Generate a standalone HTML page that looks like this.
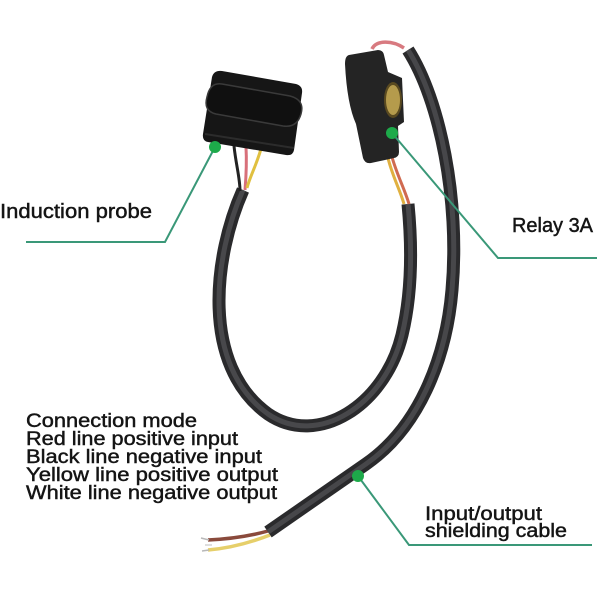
<!DOCTYPE html>
<html><head><meta charset="utf-8"><style>
html,body{margin:0;padding:0;background:#fff;}
svg{display:block;}
text{font-family:"Liberation Sans",Arial,sans-serif;fill:#141414;stroke:#141414;stroke-width:0.45;}
</style></head><body>
<svg width="600" height="600" viewBox="0 0 600 600" xmlns="http://www.w3.org/2000/svg">
<rect width="600" height="600" fill="#fff"/>

<!-- wires at end of cable 2 -->
<path d="M268,531 C250,536 230,539 208,540" stroke="#8a4a3c" stroke-width="3.5" fill="none"/>
<path d="M270,535 C252,542 232,548 208,550" stroke="#e6cf6a" stroke-width="3.5" fill="none"/>
<path d="M209,540 L201,538" stroke="#b8b8b8" stroke-width="1.5"/>
<path d="M209,550 L202,551" stroke="#b8b8b8" stroke-width="1.5"/>
<path d="M212,545 L205,545" stroke="#c8c8c8" stroke-width="1.2"/>

<!-- cable 2 (input/output) -->
<path d="M408,50 C440,100 460,200 452,290 C446,360 418,428 366,464 L268,532" stroke="#2a2a2c" stroke-width="13" fill="none"/>
<path d="M408,50 C440,100 460,200 452,290 C446,360 418,428 366,464 L268,532" stroke="#47474a" stroke-width="5" fill="none"/>

<!-- cable 1 (probe loop) -->
<path d="M243,190 C214,255 200,365 268,414 C318,448 385,405 402,335 C414,285 411,235 408,204" stroke="#2a2a2c" stroke-width="13" fill="none"/>
<path d="M243,190 C214,255 200,365 268,414 C318,448 385,405 402,335 C414,285 411,235 408,204" stroke="#48484b" stroke-width="5" fill="none"/>

<!-- probe wires -->
<path d="M234,146 C236,165 240,178 240,191" stroke="#222" stroke-width="3" fill="none"/>
<path d="M246,147 C247,165 246,178 245,190" stroke="#d8707a" stroke-width="3" fill="none"/>
<path d="M262,145 C258,162 250,176 247,188" stroke="#e0c040" stroke-width="3" fill="none"/>

<!-- relay wires -->
<path d="M388,158 C392,175 400,190 404,204" stroke="#e0b040" stroke-width="3" fill="none"/>
<path d="M392,157 C397,175 405,190 409,204" stroke="#d06a50" stroke-width="3" fill="none"/>
<path d="M372,49 C376,40 392,40 404,48" stroke="#d87a80" stroke-width="3.5" fill="none"/>

<!-- probe body -->
<path d="M222,71 L296,84 Q303,86 302,93 L294,150 Q293,156 286,155 L208,142 Q202,141 203,134 L212,77 Q214,70 222,71 Z" fill="#161616"/>
<path d="M222,84 L290,96 Q305,100 301,114 Q297,128 283,126 L216,114 Q203,111 207,97 Q210,82 222,84 Z" fill="#101010" stroke="#3a3a3a" stroke-width="1.5"/>
<path d="M205,134 L294,148" stroke="#2c2c2c" stroke-width="2"/>

<!-- relay body -->
<path d="M349,55 L378,50 Q383,50 384,55 L388,72 L402,78 L404,122 L398,126 L399,152 Q399,157 394,158 L371,163 Q365,164 363,158 L356,124 Q347,104 345,64 Q345,56 349,55 Z" fill="#242424"/>
<ellipse cx="393" cy="100" rx="9" ry="18" fill="#5a4a20"/>
<ellipse cx="393" cy="100" rx="7" ry="15" fill="#b59b4c"/>

<!-- leader lines -->
<g stroke="#3a9878" stroke-width="2" fill="none">
<polyline points="215,147 165,242 26,242"/>
<polyline points="392,133 498,258 597,258"/>
<polyline points="358,476 409,545 592,545"/>
</g>
<circle cx="215" cy="147" r="6" fill="#1daa4a"/>
<circle cx="392" cy="133" r="6" fill="#1daa4a"/>
<circle cx="358" cy="476" r="6" fill="#1daa4a"/>

<!-- labels -->
<text x="0" y="218" font-size="20" textLength="152" lengthAdjust="spacingAndGlyphs">Induction probe</text>
<text x="512" y="232" font-size="20" textLength="81" lengthAdjust="spacingAndGlyphs">Relay 3A</text>

<text x="26" y="427" font-size="19" textLength="171" lengthAdjust="spacingAndGlyphs">Connection mode</text>
<text x="26" y="445" font-size="19" textLength="212" lengthAdjust="spacingAndGlyphs">Red line positive input</text>
<text x="26" y="463" font-size="19" textLength="236" lengthAdjust="spacingAndGlyphs">Black line negative input</text>
<text x="26" y="481" font-size="19" textLength="252" lengthAdjust="spacingAndGlyphs">Yellow line positive output</text>
<text x="26" y="499" font-size="19" textLength="251" lengthAdjust="spacingAndGlyphs">White line negative output</text>

<text x="425" y="520" font-size="19" textLength="117" lengthAdjust="spacingAndGlyphs">Input/output</text>
<text x="425" y="537" font-size="19" textLength="142" lengthAdjust="spacingAndGlyphs">shielding cable</text>
</svg>
</body></html>
